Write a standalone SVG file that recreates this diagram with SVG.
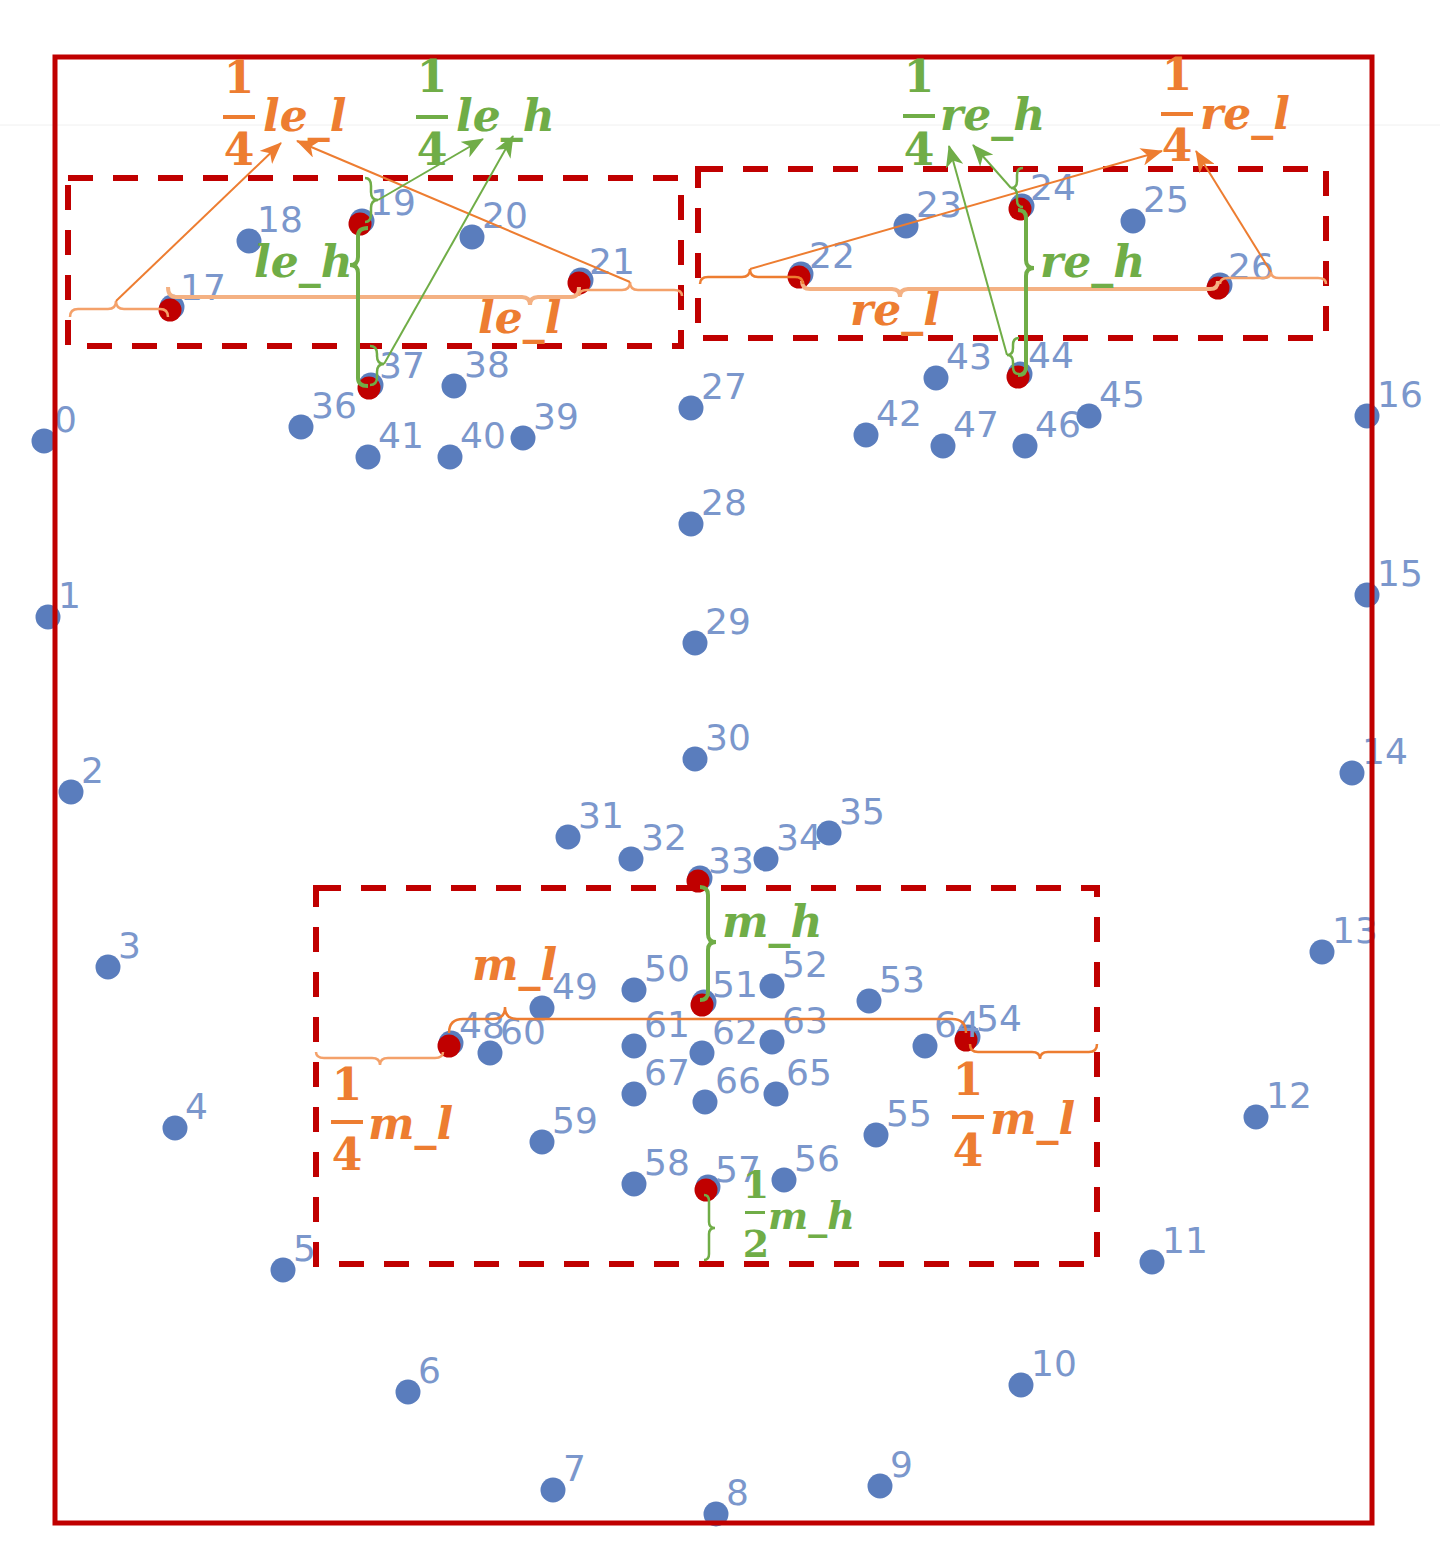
<svg xmlns="http://www.w3.org/2000/svg" width="1440" height="1568" viewBox="0 0 1440 1568">
<style>
.dot{fill:#5A7DBD}
.red{fill:#C00000}
.lbl{font-family:"DejaVu Sans",sans-serif;font-size:36px;fill:#7B97CC}
.box{fill:none;stroke:#C00000;stroke-width:6;stroke-dasharray:25 20}
.frame{fill:none;stroke:#C00000;stroke-width:5}
.bl{fill:none;stroke:#F4B183;stroke-width:4}
.bs{fill:none;stroke:#F4A16A;stroke-width:2.5}
.bo{fill:none;stroke:#ED7D31;stroke-width:2.5}
.gl{fill:none;stroke:#70AD47;stroke-width:4}
.gs{fill:none;stroke:#70AD47;stroke-width:2.5}
.ao{fill:none;stroke:#ED7D31;stroke-width:2;marker-end:url(#ho)}
.ag{fill:none;stroke:#70AD47;stroke-width:2;marker-end:url(#hg)}
.m{font-family:"DejaVu Serif",serif;font-weight:bold;font-style:italic;font-size:44px}
.d{font-family:"DejaVu Serif",serif;font-weight:bold;font-size:44px;text-anchor:middle}
.ds{font-family:"DejaVu Serif",serif;font-weight:bold;font-size:38px;text-anchor:middle}
.ms{font-family:"DejaVu Serif",serif;font-weight:bold;font-style:italic;font-size:38px}
.or{fill:#ED7D31}
.gr{fill:#70AD47}
</style>
<defs>
<marker id="ho" markerUnits="userSpaceOnUse" markerWidth="22" markerHeight="18" refX="21" refY="9" orient="auto"><path d="M0,0 L22,9 L0,18 L6,9 Z" fill="#ED7D31"/></marker>
<marker id="hg" markerUnits="userSpaceOnUse" markerWidth="22" markerHeight="18" refX="21" refY="9" orient="auto"><path d="M0,0 L22,9 L0,18 L6,9 Z" fill="#70AD47"/></marker>
</defs>
<rect x="0" y="0" width="1440" height="1568" fill="#FFFFFF"/>
<line x1="0" y1="125" x2="1440" y2="125" stroke="#F0F0F0" stroke-width="1"/>
<g id="nodes">
<g id="p0"><circle class="dot" cx="44" cy="441" r="12.5"/><text class="lbl" x="54" y="432">0</text></g>
<g id="p1"><circle class="dot" cx="48" cy="617" r="12.5"/><text class="lbl" x="58" y="608">1</text></g>
<g id="p2"><circle class="dot" cx="71" cy="792" r="12.5"/><text class="lbl" x="81" y="783">2</text></g>
<g id="p3"><circle class="dot" cx="108" cy="967" r="12.5"/><text class="lbl" x="118" y="958">3</text></g>
<g id="p4"><circle class="dot" cx="175" cy="1128" r="12.5"/><text class="lbl" x="185" y="1119">4</text></g>
<g id="p5"><circle class="dot" cx="283" cy="1270" r="12.5"/><text class="lbl" x="293" y="1261">5</text></g>
<g id="p6"><circle class="dot" cx="408" cy="1392" r="12.5"/><text class="lbl" x="418" y="1383">6</text></g>
<g id="p7"><circle class="dot" cx="553" cy="1490" r="12.5"/><text class="lbl" x="563" y="1481">7</text></g>
<g id="p8"><circle class="dot" cx="716" cy="1514" r="12.5"/><text class="lbl" x="726" y="1505">8</text></g>
<g id="p9"><circle class="dot" cx="880" cy="1486" r="12.5"/><text class="lbl" x="890" y="1477">9</text></g>
<g id="p10"><circle class="dot" cx="1021" cy="1385" r="12.5"/><text class="lbl" x="1031" y="1376">10</text></g>
<g id="p11"><circle class="dot" cx="1152" cy="1262" r="12.5"/><text class="lbl" x="1162" y="1253">11</text></g>
<g id="p12"><circle class="dot" cx="1256" cy="1117" r="12.5"/><text class="lbl" x="1266" y="1108">12</text></g>
<g id="p13"><circle class="dot" cx="1322" cy="952" r="12.5"/><text class="lbl" x="1332" y="943">13</text></g>
<g id="p14"><circle class="dot" cx="1352" cy="773" r="12.5"/><text class="lbl" x="1362" y="764">14</text></g>
<g id="p15"><circle class="dot" cx="1367" cy="595" r="12.5"/><text class="lbl" x="1377" y="586">15</text></g>
<g id="p16"><circle class="dot" cx="1367" cy="416" r="12.5"/><text class="lbl" x="1377" y="407">16</text></g>
<g id="p17"><circle class="dot" cx="172" cy="307" r="12.5"/><text class="lbl" x="180" y="300">17</text><circle class="red" cx="170" cy="310" r="11.5"/></g>
<g id="p18"><circle class="dot" cx="249" cy="241" r="12.5"/><text class="lbl" x="257" y="232">18</text></g>
<g id="p19"><circle class="dot" cx="362" cy="221" r="12.5"/><text class="lbl" x="370" y="215">19</text><circle class="red" cx="360" cy="224" r="11.5"/></g>
<g id="p20"><circle class="dot" cx="472" cy="237" r="12.5"/><text class="lbl" x="482" y="228">20</text></g>
<g id="p21"><circle class="dot" cx="581" cy="280" r="12.5"/><text class="lbl" x="589" y="274">21</text><circle class="red" cx="579" cy="283" r="11.5"/></g>
<g id="p22"><circle class="dot" cx="801" cy="274" r="12.5"/><text class="lbl" x="809" y="268">22</text><circle class="red" cx="799" cy="277" r="11.5"/></g>
<g id="p23"><circle class="dot" cx="906" cy="226" r="12.5"/><text class="lbl" x="916" y="217">23</text></g>
<g id="p24"><circle class="dot" cx="1022" cy="206" r="12.5"/><text class="lbl" x="1030" y="200">24</text><circle class="red" cx="1020" cy="209" r="11.5"/></g>
<g id="p25"><circle class="dot" cx="1133" cy="221" r="12.5"/><text class="lbl" x="1143" y="212">25</text></g>
<g id="p26"><circle class="dot" cx="1220" cy="285" r="12.5"/><text class="lbl" x="1228" y="279">26</text><circle class="red" cx="1218" cy="288" r="11.5"/></g>
<g id="p27"><circle class="dot" cx="691" cy="408" r="12.5"/><text class="lbl" x="701" y="399">27</text></g>
<g id="p28"><circle class="dot" cx="691" cy="524" r="12.5"/><text class="lbl" x="701" y="515">28</text></g>
<g id="p29"><circle class="dot" cx="695" cy="643" r="12.5"/><text class="lbl" x="705" y="634">29</text></g>
<g id="p30"><circle class="dot" cx="695" cy="759" r="12.5"/><text class="lbl" x="705" y="750">30</text></g>
<g id="p31"><circle class="dot" cx="568" cy="837" r="12.5"/><text class="lbl" x="578" y="828">31</text></g>
<g id="p32"><circle class="dot" cx="631" cy="859" r="12.5"/><text class="lbl" x="641" y="850">32</text></g>
<g id="p33"><circle class="dot" cx="700" cy="878" r="12.5"/><text class="lbl" x="708" y="873">33</text><circle class="red" cx="698" cy="881" r="11.5"/></g>
<g id="p34"><circle class="dot" cx="766" cy="859" r="12.5"/><text class="lbl" x="776" y="850">34</text></g>
<g id="p35"><circle class="dot" cx="829" cy="833" r="12.5"/><text class="lbl" x="839" y="824">35</text></g>
<g id="p36"><circle class="dot" cx="301" cy="427" r="12.5"/><text class="lbl" x="311" y="418">36</text></g>
<g id="p37"><circle class="dot" cx="371" cy="385" r="12.5"/><text class="lbl" x="379" y="378">37</text><circle class="red" cx="369" cy="388" r="11.5"/></g>
<g id="p38"><circle class="dot" cx="454" cy="386" r="12.5"/><text class="lbl" x="464" y="377">38</text></g>
<g id="p39"><circle class="dot" cx="523" cy="438" r="12.5"/><text class="lbl" x="533" y="429">39</text></g>
<g id="p40"><circle class="dot" cx="450" cy="457" r="12.5"/><text class="lbl" x="460" y="448">40</text></g>
<g id="p41"><circle class="dot" cx="368" cy="457" r="12.5"/><text class="lbl" x="378" y="448">41</text></g>
<g id="p42"><circle class="dot" cx="866" cy="435" r="12.5"/><text class="lbl" x="876" y="426">42</text></g>
<g id="p43"><circle class="dot" cx="936" cy="378" r="12.5"/><text class="lbl" x="946" y="369">43</text></g>
<g id="p44"><circle class="dot" cx="1020" cy="374" r="12.5"/><text class="lbl" x="1028" y="368">44</text><circle class="red" cx="1018" cy="377" r="11.5"/></g>
<g id="p45"><circle class="dot" cx="1089" cy="416" r="12.5"/><text class="lbl" x="1099" y="407">45</text></g>
<g id="p46"><circle class="dot" cx="1025" cy="446" r="12.5"/><text class="lbl" x="1035" y="437">46</text></g>
<g id="p47"><circle class="dot" cx="943" cy="446" r="12.5"/><text class="lbl" x="953" y="437">47</text></g>
<g id="p48"><circle class="dot" cx="451" cy="1043" r="12.5"/><text class="lbl" x="459" y="1038">48</text><circle class="red" cx="449" cy="1046" r="11.5"/></g>
<g id="p49"><circle class="dot" cx="542" cy="1008" r="12.5"/><text class="lbl" x="552" y="999">49</text></g>
<g id="p50"><circle class="dot" cx="634" cy="990" r="12.5"/><text class="lbl" x="644" y="981">50</text></g>
<g id="p51"><circle class="dot" cx="704" cy="1002" r="12.5"/><text class="lbl" x="712" y="997">51</text><circle class="red" cx="702" cy="1005" r="11.5"/></g>
<g id="p52"><circle class="dot" cx="772" cy="986" r="12.5"/><text class="lbl" x="782" y="977">52</text></g>
<g id="p53"><circle class="dot" cx="869" cy="1001" r="12.5"/><text class="lbl" x="879" y="992">53</text></g>
<g id="p54"><circle class="dot" cx="968" cy="1037" r="12.5"/><text class="lbl" x="976" y="1031">54</text><circle class="red" cx="966" cy="1040" r="11.5"/></g>
<g id="p55"><circle class="dot" cx="876" cy="1135" r="12.5"/><text class="lbl" x="886" y="1126">55</text></g>
<g id="p56"><circle class="dot" cx="784" cy="1180" r="12.5"/><text class="lbl" x="794" y="1171">56</text></g>
<g id="p57"><circle class="dot" cx="708" cy="1187" r="12.5"/><text class="lbl" x="715" y="1182">57</text><circle class="red" cx="706" cy="1190" r="11.5"/></g>
<g id="p58"><circle class="dot" cx="634" cy="1184" r="12.5"/><text class="lbl" x="644" y="1175">58</text></g>
<g id="p59"><circle class="dot" cx="542" cy="1142" r="12.5"/><text class="lbl" x="552" y="1133">59</text></g>
<g id="p60"><circle class="dot" cx="490" cy="1053" r="12.5"/><text class="lbl" x="500" y="1044">60</text></g>
<g id="p61"><circle class="dot" cx="634" cy="1046" r="12.5"/><text class="lbl" x="644" y="1037">61</text></g>
<g id="p62"><circle class="dot" cx="702" cy="1053" r="12.5"/><text class="lbl" x="712" y="1044">62</text></g>
<g id="p63"><circle class="dot" cx="772" cy="1042" r="12.5"/><text class="lbl" x="782" y="1033">63</text></g>
<g id="p64"><circle class="dot" cx="925" cy="1046" r="12.5"/><text class="lbl" x="934" y="1037">64</text></g>
<g id="p65"><circle class="dot" cx="776" cy="1094" r="12.5"/><text class="lbl" x="786" y="1085">65</text></g>
<g id="p66"><circle class="dot" cx="705" cy="1102" r="12.5"/><text class="lbl" x="715" y="1093">66</text></g>
<g id="p67"><circle class="dot" cx="634" cy="1094" r="12.5"/><text class="lbl" x="644" y="1085">67</text></g>
</g>
<g id="regions">
<rect class="frame" x="55" y="57" width="1317" height="1466"/>
<rect id="left-eye-box" class="box" x="68" y="178" width="613" height="168"/>
<rect id="right-eye-box" class="box" x="698" y="169" width="628" height="169"/>
<rect id="mouth-box" class="box" x="316" y="888" width="781" height="376"/>
</g>
<g id="connectors">
<path class="bl" d="M168,287 Q168,297 176,297 L522,297 Q530,297 530,305 Q530,297 538,297 L571,297 Q579,297 579,287"/>
<path class="bs" d="M70,317 Q70,309 78,309 L108,309 Q116,309 116,301 Q116,309 124,309 L160,309 Q168,309 168,317"/>
<path class="bs" d="M579,296 Q579,290 587,290 L622,290 Q630,290 630,282 Q630,290 638,290 L674,290 Q682,290 682,296"/>
<line class="ao" x1="116" y1="301" x2="281" y2="143"/>
<line class="ao" x1="630" y1="282" x2="297" y2="141"/>
<path class="gl" d="M368,228 Q358,228 358,236 L358,257 Q358,265 350,265 Q358,265 358,273 L358,378 Q358,386 368,386"/>
<path class="gs" d="M365,178 Q371,178 371,186 L371,192 Q371,200 378,200 Q371,200 371,208 L371,214 Q371,222 365,222"/>
<path class="gs" d="M370,346 Q377,346 377,354 L377,356 Q377,364 384,364 Q377,364 377,372 L377,377 Q377,385 370,385"/>
<line class="ag" x1="378" y1="200" x2="483" y2="139"/>
<line class="ag" x1="384" y1="364" x2="513" y2="136"/>
<path class="bl" d="M802,281 Q802,289 810,289 L892,289 Q900,289 900,297 Q900,289 908,289 L1210,289 Q1218,289 1218,281"/>
<path class="bo" d="M700,284 Q700,277 708,277 L742,277 Q750,277 750,269 Q750,277 758,277 L795,277 Q803,277 803,284"/>
<path class="bs" d="M1220,284 Q1220,278 1228,278 L1263,278 Q1271,278 1271,272 Q1271,278 1279,278 L1318,278 Q1326,278 1326,284"/>
<line class="ao" x1="750" y1="269" x2="1162" y2="151"/>
<line class="ao" x1="1271" y1="272" x2="1196" y2="151"/>
<path class="gl" d="M1018,210 Q1026,210 1026,218 L1026,260 Q1026,268 1034,268 Q1026,268 1026,276 L1026,367 Q1026,375 1018,375"/>
<path class="gs" d="M1023,168 Q1017,168 1017,175 L1017,181 Q1017,188 1011,188 Q1017,188 1017,195 L1017,200 Q1017,207 1023,207"/>
<path class="gs" d="M1019,338 Q1013,338 1013,345 L1013,348 Q1013,355 1007,355 Q1013,355 1013,362 L1013,367 Q1013,374 1019,374"/>
<line class="ag" x1="1011" y1="188" x2="973" y2="145"/>
<line class="ag" x1="1007" y1="355" x2="949" y2="146"/>
<path class="gl" d="M700,887 Q708,887 708,895 L708,934 Q708,942 716,942 Q708,942 708,950 L708,992 Q708,1000 700,1000"/>
<path class="bo" d="M449,1033 Q449,1019 463,1019 L493,1019 Q505,1019 505,1007 Q505,1019 517,1019 L952,1019 Q966,1019 966,1033"/>
<path class="bs" d="M316,1052 Q316,1058 324,1058 L372,1058 Q380,1058 380,1065 Q380,1058 388,1058 L435,1058 Q443,1058 443,1052"/>
<path class="bo" d="M970,1044 Q970,1052 978,1052 L1032,1052 Q1040,1052 1040,1059 Q1040,1052 1048,1052 L1089,1052 Q1097,1052 1097,1044"/>
<path class="gs" d="M704,1195 Q709,1195 709,1201 L709,1222 Q709,1228 715,1228 Q709,1228 709,1234 L709,1254 Q709,1260 704,1260"/>
</g>
<g id="math-labels">
<g id="q-le-l" class="or"><text class="d" x="239" y="93">1</text><rect x="223" y="115" width="32" height="4"/><text class="d" x="239" y="165">4</text><text class="m" x="263" y="131">le_l</text></g>
<g id="q-le-h" class="gr"><text class="d" x="432" y="92">1</text><rect x="416" y="115" width="32" height="4"/><text class="d" x="432" y="165">4</text><text class="m" x="456" y="131">le_h</text></g>
<g id="q-re-h" class="gr"><text class="d" x="919" y="92">1</text><rect x="903" y="114" width="32" height="4"/><text class="d" x="919" y="165">4</text><text class="m" x="940" y="130">re_h</text></g>
<g id="q-re-l" class="or"><text class="d" x="1177" y="90">1</text><rect x="1161" y="112" width="32" height="4"/><text class="d" x="1177" y="161">4</text><text class="m" x="1200" y="129">re_l</text></g>
<text class="m gr" x="254" y="277">le_h</text>
<text class="m or" x="478" y="333">le_l</text>
<text class="m gr" x="1040" y="277">re_h</text>
<text class="m or" x="850" y="325">re_l</text>
<text class="m gr" x="722" y="937">m_h</text>
<text class="m or" x="472" y="980">m_l</text>
<g id="q-m-l-left" class="or"><text class="d" x="347" y="1100">1</text><rect x="331" y="1120" width="32" height="4"/><text class="d" x="347" y="1170">4</text><text class="m" x="368" y="1139">m_l</text></g>
<g id="q-m-l-right" class="or"><text class="d" x="968" y="1095">1</text><rect x="952" y="1115" width="32" height="4"/><text class="d" x="968" y="1166">4</text><text class="m" x="990" y="1134">m_l</text></g>
<g id="h-m-h" class="gr"><text class="ds" x="756" y="1198">1</text><rect x="745" y="1211" width="20" height="3"/><text class="ds" x="756" y="1257">2</text><text class="ms" x="768" y="1229">m_h</text></g>
</g>
</svg>
